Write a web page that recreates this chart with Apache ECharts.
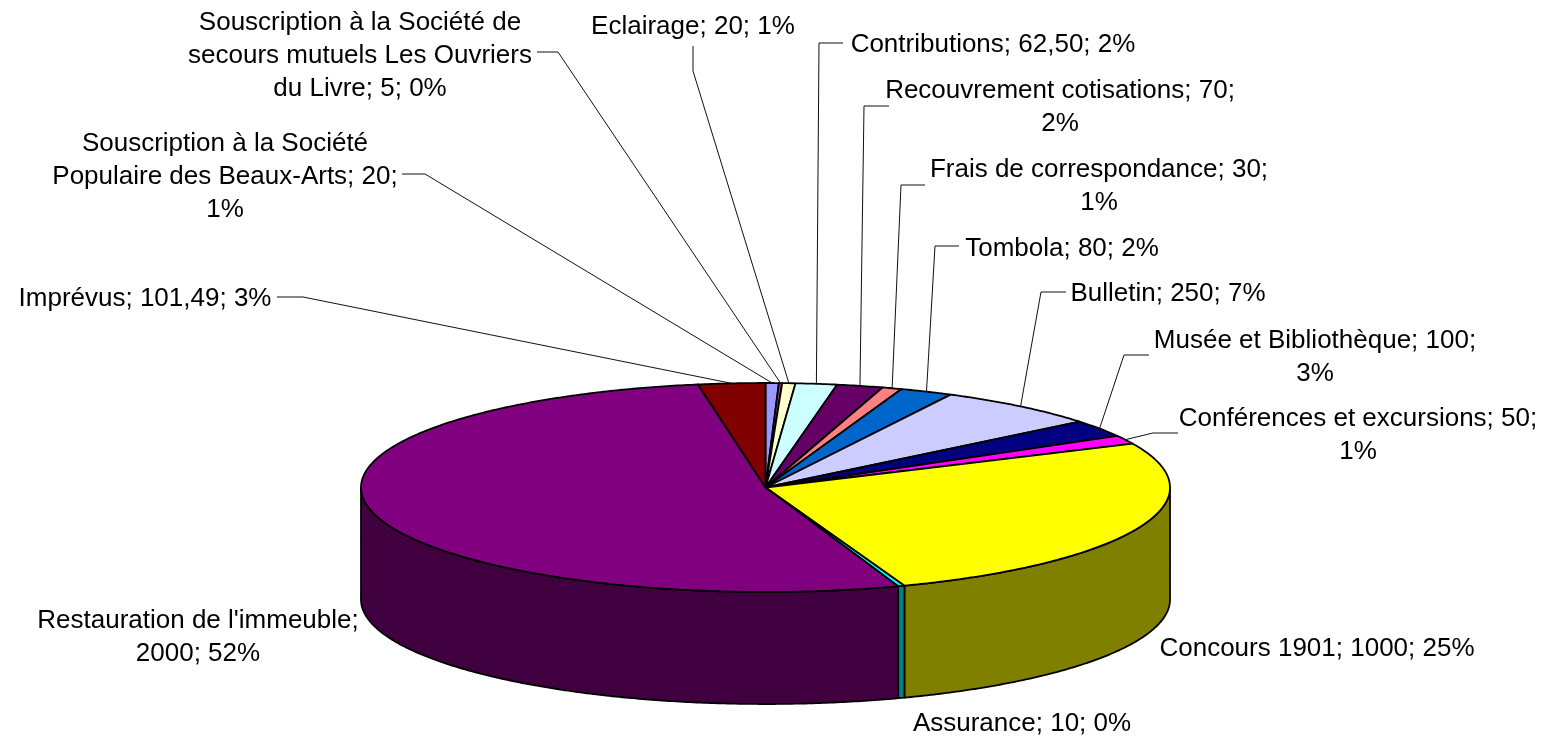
<!DOCTYPE html>
<html>
<head>
<meta charset="utf-8">
<style>html,body{margin:0;padding:0;background:#fff}#c{width:1547px;height:740px}</style>
<script src="https://cdn.jsdelivr.net/npm/echarts@6/dist/echarts.min.js"></script>
</head>
<body>
<div id="c"></div>
<script>
// ----- data -----
const categories = ["Souscription à la Société Populaire des Beaux-Arts","Souscription à la Société de secours mutuels Les Ouvriers du Livre","Eclairage","Contributions","Recouvrement cotisations","Frais de correspondance","Tombola","Bulletin","Musée et Bibliothèque","Conférences et excursions","Concours 1901","Assurance","Restauration de l'immeuble","Imprévus"];
const values = [20,5,20,62.5,70,30,80,250,100,50,1000,10,2000,101.49];
const labelTexts = [
 "Souscription à la Société\nPopulaire des Beaux-Arts; 20;\n1%",
 "Souscription à la Société de\nsecours mutuels Les Ouvriers\ndu Livre; 5; 0%",
 "Eclairage; 20; 1%",
 "Contributions; 62,50; 2%",
 "Recouvrement cotisations; 70;\n2%",
 "Frais de correspondance; 30;\n1%",
 "Tombola; 80; 2%",
 "Bulletin; 250; 7%",
 "Musée et Bibliothèque; 100;\n3%",
 "Conférences et excursions; 50;\n1%",
 "Concours 1901; 1000; 25%",
 "Assurance; 10; 0%",
 "Restauration de l'immeuble;\n2000; 52%",
 "Imprévus; 101,49; 3%"
];
const topColors = ["#9999FF","#993366","#FFFFCC","#CCFFFF","#660066","#FF8080","#0066CC","#CCCCFF","#000080","#FF00FF","#FFFF00","#00FFFF","#800080","#800000"];
const sideColors = ["#4C4C80","#4C1933","#808066","#668080","#330033","#804040","#003366","#666680","#000040","#800080","#808000","#008080","#400040","#400000"];

// ----- layout (pixels) -----
const labelCenters = [[225,177],[360,56],[693,27],[993,45],[1060,107],[1099,186],[1062,249],[1168,294],[1315,357],[1358,435],[1317,649],[1022,724],[198,637],[145,299]];
const leaderKnees = [[[402,174],[425,174]],[[537,52],[558,52]],[[693,46],[693,71]],[[843,43],[819,43]],[[889,106],[864,106]],[[925,185],[901,185]],[[959,246],[935,246]],[[1066,292],[1041,292]],[[1149,355],[1124,355]],[[1178,433],[1153,433]],null,null,null,[[277,297],[303,297]]];
const DEPTH = 112 / 104.5;   // pie height, in units of the minor radius
const FONT = '26px "Liberation Sans", Arial, sans-serif';

const total = values.reduce((a,b)=>a+b,0);
let acc = 0;
const sliceData = values.map((v,i)=>{ const s = acc/total; acc += v; return [s, acc/total, i]; });

const chart = echarts.init(document.getElementById('c'), null, {renderer:'canvas'});
const rim = f => { const t = f*2*Math.PI; return [Math.sin(t), Math.cos(t)]; };

function arcPts(api, a, b, drop){
  const n = Math.max(2, Math.ceil((b-a)*720));
  const out = [];
  for(let k=0;k<=n;k++){ const p = rim(a+(b-a)*k/n); out.push(api.coord([p[0], p[1]-drop])); }
  return out;
}

function renderSide(params, api){
  const i = api.value(2);
  const a = Math.max(api.value(0), 0.25), b = Math.min(api.value(1), 0.75);
  if(b <= a) return {type:'group', children:[]};
  const pts = arcPts(api,a,b,0).concat(arcPts(api,a,b,DEPTH).reverse());
  return {type:'polygon', shape:{points:pts}, style:{fill:sideColors[i], stroke:'#000', lineWidth:1.8, lineJoin:'round'}};
}
function renderTop(params, api){
  const i = api.value(2);
  const pts = [api.coord([0,0])].concat(arcPts(api,api.value(0),api.value(1),0));
  return {type:'polygon', shape:{points:pts}, style:{fill:topColors[i], stroke:'#000', lineWidth:1.8, lineJoin:'round'}};
}
function renderLabel(params, api){
  const i = api.value(2);
  const children = [];
  const knee = leaderKnees[i];
  if(knee){
    const end = api.coord(rim((api.value(0)+api.value(1))/2));
    children.push({type:'polyline', shape:{points:[knee[0],knee[1],end]}, style:{fill:null, stroke:'#111', lineWidth:1}});
  }
  children.push({type:'text', style:{text:labelTexts[i], x:labelCenters[i][0], y:labelCenters[i][1], align:'center', verticalAlign:'middle', font:FONT, lineHeight:33, fill:'#000'}});
  return {type:'group', children};
}

chart.setOption({
  animation:false,
  backgroundColor:'#fff',
  grid:{left:361, right:377, top:383, height:209},
  xAxis:{type:'value', min:-1, max:1, show:false},
  yAxis:{type:'value', min:-1, max:1, show:false},
  series:[
    {type:'custom', name:'side', data:sliceData, renderItem:renderSide, silent:true, clip:false, z:1},
    {type:'custom', name:'top', data:sliceData, renderItem:renderTop, silent:true, clip:false, z:2},
    {type:'custom', name:'labels', data:sliceData, renderItem:renderLabel, silent:true, clip:false, z:3}
  ]
});
</script>
</body>
</html>
